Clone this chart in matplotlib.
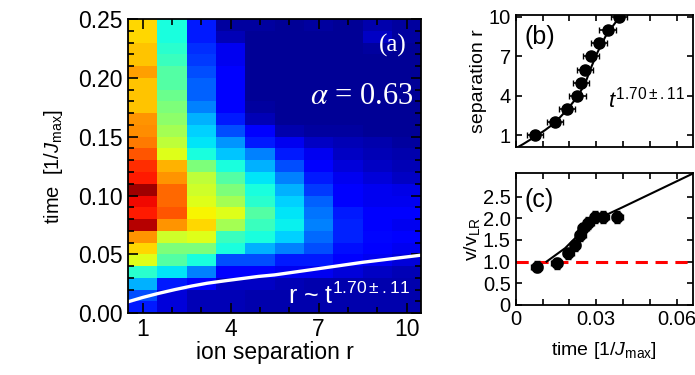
import numpy as np
import matplotlib
matplotlib.use('Agg')
import matplotlib.pyplot as plt

plt.rcParams['font.family'] = 'Liberation Sans'
plt.rcParams['mathtext.fontset'] = 'custom'
plt.rcParams['mathtext.rm'] = 'Liberation Sans'
plt.rcParams['mathtext.it'] = 'Liberation Sans:italic'
plt.rcParams['mathtext.bf'] = 'Liberation Sans:bold'

# ---- panel (a): heat map, one list per ion separation, time bins 0.00..0.25 (bottom -> top)
t_edges = np.linspace(0, 0.25, 26)
sep = [1, 2, 3, 4, 5, 6, 7, 8, 9, 10]
col_r1 = [0.15, 0.20, 0.30, 0.40, 0.62, 0.68, 0.75, 0.95, 0.88, 0.90, 0.97, 0.88, 0.86,
          0.82, 0.78, 0.76, 0.75, 0.70, 0.70, 0.70, 0.74, 0.70, 0.70, 0.68, 0.68]
col_r2 = [0.08, 0.08, 0.15, 0.35, 0.45, 0.50, 0.60, 0.75, 0.82, 0.80, 0.80, 0.75, 0.72,
          0.62, 0.58, 0.55, 0.52, 0.50, 0.48, 0.45, 0.45, 0.42, 0.40, 0.38, 0.38]
col_r3 = [0.05, 0.05, 0.12, 0.25, 0.38, 0.50, 0.62, 0.68, 0.65, 0.62, 0.60, 0.58, 0.50,
          0.38, 0.35, 0.33, 0.30, 0.25, 0.22, 0.22, 0.20, 0.18, 0.17, 0.15, 0.15]
col_r4 = [0.05, 0.05, 0.06, 0.12, 0.20, 0.38, 0.42, 0.55, 0.62, 0.55, 0.50, 0.45, 0.38,
          0.32, 0.27, 0.20, 0.15, 0.12, 0.12, 0.12, 0.12, 0.10, 0.10, 0.05, 0.03]
col_r5 = [0.04, 0.04, 0.06, 0.12, 0.20, 0.30, 0.38, 0.42, 0.45, 0.40, 0.38, 0.35, 0.30,
          0.25, 0.15, 0.12, 0.05, 0.03, 0.02, 0.02, 0.02, 0.02, 0.02, 0.02, 0.03]
col_r6 = [0.04, 0.04, 0.05, 0.10, 0.15, 0.25, 0.33, 0.36, 0.35, 0.33, 0.30, 0.25, 0.20,
          0.15, 0.10, 0.04, 0.02, 0.02, 0.02, 0.02, 0.02, 0.02, 0.02, 0.02, 0.02]
col_r7 = [0.04, 0.04, 0.04, 0.10, 0.15, 0.20, 0.23, 0.25, 0.24, 0.22, 0.18, 0.15, 0.12,
          0.10, 0.06, 0.03, 0.02, 0.02, 0.02, 0.02, 0.02, 0.02, 0.02, 0.02, 0.03]
col_r8 = [0.04, 0.04, 0.04, 0.08, 0.12, 0.14, 0.16, 0.16, 0.15, 0.12, 0.12, 0.10, 0.08,
          0.06, 0.05, 0.03, 0.02, 0.02, 0.02, 0.02, 0.02, 0.02, 0.02, 0.02, 0.02]
col_r9 = [0.04, 0.04, 0.04, 0.06, 0.10, 0.12, 0.13, 0.12, 0.12, 0.10, 0.10, 0.08, 0.06,
          0.05, 0.04, 0.02, 0.02, 0.02, 0.02, 0.02, 0.02, 0.02, 0.03, 0.06, 0.04]
col_r10 = [0.04, 0.04, 0.04, 0.05, 0.08, 0.10, 0.11, 0.10, 0.11, 0.10, 0.09, 0.06, 0.05,
           0.04, 0.03, 0.02, 0.02, 0.02, 0.02, 0.02, 0.02, 0.02, 0.02, 0.03, 0.03]
heat = np.array([col_r1, col_r2, col_r3, col_r4, col_r5,
                 col_r6, col_r7, col_r8, col_r9, col_r10]).T

# white front line r ~ t^1.70
front_r = [0.5, 1.0, 1.53, 2.1, 2.67, 3.2, 3.81, 4.95, 5.5, 7.0, 8.5, 10.5]
front_t = [0.0096, 0.0133, 0.0167, 0.0200, 0.0230, 0.0254, 0.0275, 0.0312, 0.0325,
           0.0378, 0.0432, 0.0493]

# ---- panel (b): separation vs time
b_t = [0.0071, 0.0146, 0.019, 0.023, 0.0243, 0.0259, 0.028, 0.0309, 0.0342, 0.0384]
b_r = [1, 2, 3, 4, 5, 6, 7, 8, 9, 10]
b_fit_t = [0.0, 0.0027, 0.0071, 0.0109, 0.0146, 0.019, 0.023, 0.0259, 0.0277, 0.0303,
           0.0334, 0.0365, 0.0393]
b_fit_r = [0.0, 0.31, 0.87, 1.38, 1.94, 2.91, 3.92, 4.95, 5.96, 7.24, 8.5, 9.4, 10.16]

# ---- panel (c): velocity vs time
c_t = [0.0078, 0.0153, 0.0196, 0.0221, 0.024, 0.0252, 0.0271, 0.0296, 0.0327, 0.0378]
c_v = [0.88, 0.96, 1.19, 1.38, 1.61, 1.77, 1.89, 2.03, 2.03, 2.03]
c_fit_t = [0.0115, 0.0184, 0.0234, 0.0271, 0.031, 0.0396, 0.0665]
c_fit_v = [1.0, 1.31, 1.62, 1.85, 2.0, 2.25, 3.05]

fig = plt.figure(figsize=(6.95, 3.75), dpi=100)

ax = fig.add_axes([0.184, 0.165, 0.422, 0.784])
ax.pcolormesh(np.arange(0.5, 11, 1), t_edges, heat, cmap='jet', vmin=0, vmax=1)
ax.plot(front_r, front_t, color='white', lw=2.4)
ax.set_xlim(0.5, 10.5)
ax.set_ylim(0, 0.25)
ax.set_xticks([1, 4, 7, 10])
ax.set_xticks(sep, minor=True)
ax.set_yticks([0, 0.05, 0.10, 0.15, 0.20, 0.25])
ax.set_yticks(np.arange(0, 0.251, 0.01), minor=True)
ax.set_yticklabels(['0.00', '0.05', '0.10', '0.15', '0.20', '0.25'])
ax.tick_params(which='both', direction='in', top=True, right=True, labelsize=16.5, width=1.2)
ax.tick_params(which='major', length=7)
ax.tick_params(which='minor', length=4)
ax.set_xlabel('ion separation r', fontsize=16.5, labelpad=0)
ax.set_ylabel('time  [1/$J_{\\rm max}$]', fontsize=14.5, labelpad=10)
ax.text(0.95, 0.89, '(a)', transform=ax.transAxes, color='white', ha='right',
        fontsize=18, family='Liberation Serif')
ax.text(0.975, 0.71, r'$\alpha$ = 0.63', transform=ax.transAxes, color='white', ha='right',
        fontsize=22, family='Liberation Serif', math_fontfamily='stix')
ax.text(0.96, 0.03, 'r ~ t$^{\\rm 1.70\\pm.11}$', transform=ax.transAxes, color='white',
        ha='right', fontsize=18)

axb = fig.add_axes([0.742, 0.608, 0.255, 0.352])
axb.plot(b_fit_t, b_fit_r, color='black', lw=1.5)
axb.errorbar(b_t, b_r, xerr=0.003, yerr=0.3, fmt='o', color='black', ms=8,
             capsize=2, elinewidth=1.2)
axb.set_xlim(0, 0.066)
axb.set_ylim(0.1, 10.15)
axb.set_yticks([1, 4, 7, 10])
axb.set_xticks(np.arange(0, 0.066, 0.01))
axb.set_xticklabels([])
axb.tick_params(direction='in', top=True, right=True, labelsize=14.5, length=4, width=1.2)
axb.set_ylabel('separation r', fontsize=14, labelpad=1)
axb.text(0.05, 0.78, '(b)', transform=axb.transAxes, fontsize=18)
axb.text(0.52, 0.3, '$t^{\\rm 1.70\\pm.11}$', transform=axb.transAxes, fontsize=16)

axc = fig.add_axes([0.742, 0.187, 0.255, 0.352])
axc.axhline(1.0, color='red', lw=2.2, ls=(0, (4, 2.5)))
axc.plot(c_fit_t, c_fit_v, color='black', lw=1.5)
axc.errorbar(c_t, c_v, xerr=0.002, yerr=0.13, fmt='o', color='black', ms=8,
             capsize=2, elinewidth=1.2)
axc.set_xlim(0, 0.066)
axc.set_ylim(0, 3.05)
axc.set_yticks([0, 0.5, 1.0, 1.5, 2.0, 2.5])
axc.set_yticklabels(['0', '0.5', '1.0', '1.5', '2.0', '2.5'])
axc.set_xticks(np.arange(0, 0.066, 0.01))
axc.set_xticklabels(['0', '', '', '0.03', '', '', '0.06'])
axc.tick_params(direction='in', top=True, right=True, labelsize=14.5, length=4, width=1.2)
axc.set_ylabel('v/v$_{\\rm LR}$', fontsize=14, labelpad=1)
axc.set_xlabel('time [1/$J_{\\rm max}$]', fontsize=14, labelpad=8)
axc.text(0.05, 0.74, '(c)', transform=axc.transAxes, fontsize=18)

for a in (ax, axb, axc):
    for s in a.spines.values():
        s.set_linewidth(1.3)

fig.savefig('out.png', dpi=100)
